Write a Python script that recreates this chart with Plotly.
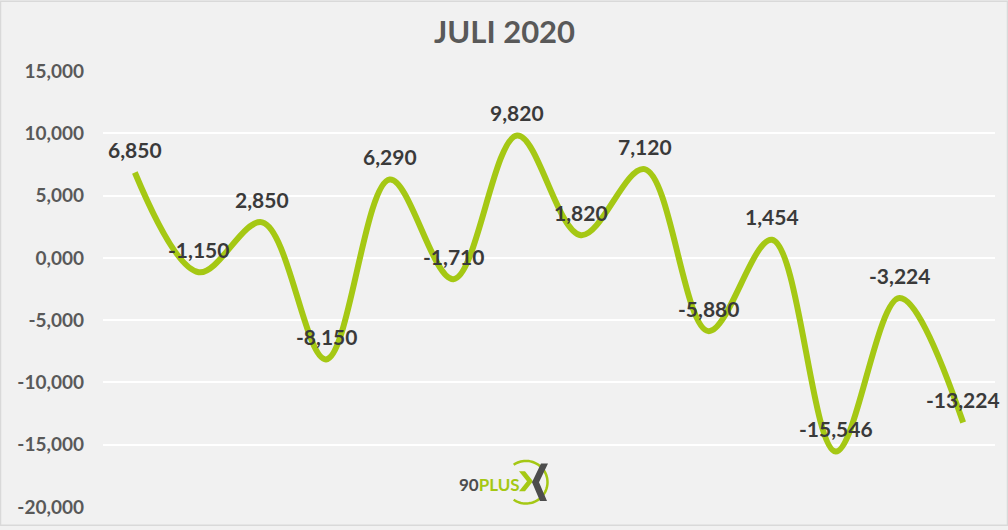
import numpy as np
import plotly.graph_objects as go

# ---- data ----
categories = [f"P{i+1}" for i in range(14)]
values = [6.850, -1.150, 2.850, -8.150, 6.290, -1.710, 9.820, 1.820,
          7.120, -5.880, 1.454, -15.546, -3.224, -13.224]
labels = [f"{v:.3f}".replace(".", ",") for v in values]
tick_vals = [15, 10, 5, 0, -5, -10, -15, -20]
tick_text = ["15,000", "10,000", "5,000", "0,000", "-5,000", "-10,000", "-15,000", "-20,000"]
title_text = "JULI 2020"

# ---- layout geometry ----
W, H = 1008, 530
ML, MR, MT, MB = 103, 13, 71, 19
PW, PH = W - ML - MR, H - MT - MB

def px(x, y):
    return (x - ML) / PW, (H - MB - y) / PH

GREEN = "#a5c814"
DARK = "#3a3a3a"
FONT = "Lato"

fig = go.Figure()
fig.add_trace(go.Scatter(
    x=categories, y=values, mode="lines",
    line=dict(color=GREEN, width=6, shape="spline", smoothing=1.0),
    hoverinfo="skip", showlegend=False,
))

for c, v, t in zip(categories, values, labels):
    fig.add_annotation(x=c, y=v, text=f"<b>{t}</b>", showarrow=False,
                       xanchor="center", yanchor="middle",
                       yshift=23, font=dict(family=FONT, size=21, color=DARK, weight="bold"))

shapes = []
# outer border
x0, y0 = px(0.5, 0.5)
x1, y1 = px(W - 0.5, H - 0.5)
shapes.append(dict(type="rect", xref="paper", yref="paper", x0=x0, y0=y0, x1=x1, y1=y1,
                   line=dict(color="#d9d9d9", width=1.5), layer="below"))

# logo: circle arc
cx, cy, r = 526, 486, 21.5
ang = np.radians(np.linspace(125, -125, 60))
pts = [px(cx + r * np.cos(a), cy - r * np.sin(a)) for a in ang]
path = "M " + " L ".join(f"{a:.5f},{b:.5f}" for a, b in pts)
shapes.append(dict(type="path", xref="paper", yref="paper", path=path,
                   line=dict(color=GREEN, width=2.5)))

def poly(points):
    p = [px(a, b) for a, b in points]
    return "M " + " L ".join(f"{a:.5f},{b:.5f}" for a, b in p) + " Z"

shapes.append(dict(type="path", xref="paper", yref="paper",
                   path=poly([(519, 475), (525, 475), (533, 485), (525, 495), (519, 495), (527, 485)]),
                   fillcolor=GREEN, line=dict(width=0)))
shapes.append(dict(type="path", xref="paper", yref="paper",
                   path=poly([(541, 467), (548, 467), (539, 486), (547, 505), (540, 505), (532, 486)]),
                   fillcolor="#4d4d4d", line=dict(width=0)))

lx, ly = px(489, 488)
fig.add_annotation(xref="paper", yref="paper", x=lx, y=ly, showarrow=False,
                   xanchor="center", yanchor="middle",
                   text=f"<b><span style='color:#4d4d4d'>90</span><span style='color:{GREEN}'>PLUS</span></b>",
                   font=dict(family=FONT, size=17, weight="bold"))

tx, ty = px(504, 31)
fig.add_annotation(xref="paper", yref="paper", x=tx, y=ty, showarrow=False,
                   xanchor="center", yanchor="middle",
                   text=f"<b>{title_text}</b>", font=dict(family=FONT, size=31, color="#595959"))

fig.update_layout(
    width=W, height=H,
    margin=dict(l=ML, r=MR, t=MT, b=MB),
    paper_bgcolor="#f1f1f1", plot_bgcolor="#f1f1f1",
    shapes=shapes,
    xaxis=dict(type="category", range=[-0.5, 13.5], showgrid=False, showticklabels=False,
               zeroline=False, showline=False, ticks=""),
    yaxis=dict(range=[-20, 15], tickvals=tick_vals, ticktext=[f"<b>{t}</b>" for t in tick_text],
               showgrid=True, gridcolor="#ffffff", gridwidth=1.5, zeroline=False,
               tickfont=dict(family=FONT, size=19, color="#595959"),
               ticklabelstandoff=18, showline=False),
    font=dict(family=FONT),
)

fig.write_html("out.html", config={"displayModeBar": False},
               post_script="document.body.style.margin='0';document.body.style.overflow='hidden';")
